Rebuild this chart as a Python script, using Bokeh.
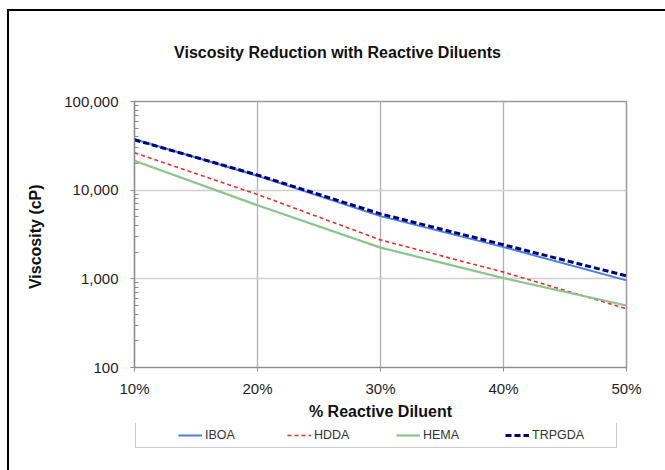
from bokeh.plotting import figure
from bokeh.layouts import column
from bokeh.models import (Range1d, FixedTicker, NumeralTickFormatter, PrintfTickFormatter,
                          Legend, LegendItem, Label)
from bokeh.embed import file_html
from bokeh.resources import INLINE

# ---- data ----
diluent_pct = [10, 20, 30, 40, 50]
iboa = [37500, 14500, 5100, 2280, 960]
hdda = [26500, 8950, 2750, 1190, 460]
hema = [21500, 6750, 2250, 1020, 500]
trpgda = [37000, 14800, 5400, 2420, 1080]
series_names = ["IBOA", "HDDA", "HEMA", "TRPGDA"]
series_values = [iboa, hdda, hema, trpgda]
x_ticks = [10, 20, 30, 40, 50]
y_ticks = [100, 1000, 10000, 100000]
y_minor = [m * 10 ** k for k in (2, 3, 4) for m in range(2, 10)]
chart_title = "Viscosity Reduction with Reactive Diluents"

FONT = "Liberation Sans"
styles_by_series = [
    dict(line_color="#4a7ee6", line_width=2),
    dict(line_color="#ee2b2b", line_width=1.6, line_dash="4 3"),
    dict(line_color="#8cc48c", line_width=2.2),
    dict(line_color="#00007f", line_width=3, line_dash="6 3"),
]
W = 656
FW = 492


def blank(fig):
    fig.background_fill_color = "white"
    fig.border_fill_color = "white"
    fig.outline_line_color = None
    fig.grid.visible = False


# ---- title strip (its frame is aligned with the main chart's frame) ----
p0 = figure(width=W, height=80, x_range=Range1d(0, FW), y_range=Range1d(0, 80),
            x_axis_location=None, y_axis_location=None,
            output_backend="svg", toolbar_location=None,
            min_border_left=0, min_border_right=0, min_border_top=0, min_border_bottom=0)
blank(p0)
p0.add_layout(Label(x=203, y=39, text=chart_title, text_align="center", text_baseline="middle",
                    text_font=FONT, text_font_style="bold", text_font_size="16px",
                    text_color="#111111"))

# ---- main chart ----
p = figure(width=W, height=332, frame_width=FW, frame_height=266,
           x_range=Range1d(10, 50), y_range=Range1d(100, 100000),
           y_axis_type="log", output_backend="svg", toolbar_location=None,
           min_border_left=125, min_border_right=39,
           min_border_top=10, min_border_bottom=56)
p.background_fill_color = "white"
p.border_fill_color = "white"
p.outline_line_color = "#9a9a9a"
p.outline_line_width = 1.5

p.xaxis.ticker = FixedTicker(ticks=x_ticks)
p.xaxis.formatter = PrintfTickFormatter(format="%d%%")
p.yaxis.ticker = FixedTicker(ticks=y_ticks, minor_ticks=y_minor)
p.yaxis.formatter = NumeralTickFormatter(format="0,0")

for ax in (p.xaxis[0], p.yaxis[0]):
    ax.axis_line_color = "#8c8c8c"
    ax.axis_line_width = 1.2
    ax.major_tick_line_color = "#8c8c8c"
    ax.major_tick_out = 4
    ax.major_tick_in = 0
    ax.major_label_text_font = FONT
    ax.major_label_text_font_size = "15px"
    ax.major_label_text_color = "#1e1e1e"
    ax.axis_label_text_font = FONT
    ax.axis_label_text_font_style = "bold"
    ax.axis_label_text_font_size = "16px"
    ax.axis_label_text_color = "#111111"

p.xaxis.minor_tick_line_color = None
p.xaxis.major_label_standoff = 8
p.xaxis.axis_label = "% Reactive Diluent"
p.xaxis.axis_label_standoff = 3

p.yaxis.minor_tick_line_color = "#8c8c8c"
p.yaxis.minor_tick_in = 4
p.yaxis.minor_tick_out = 0
p.yaxis.major_label_standoff = 12
p.yaxis.axis_label = "Viscosity  (cP)"
p.yaxis.axis_label_standoff = 17

p.xgrid.grid_line_color = "#b0b0b0"
p.xgrid.grid_line_width = 1.3
p.ygrid.grid_line_color = "#cfcfcf"
p.ygrid.grid_line_width = 1.3

for vals, st in zip(series_values, styles_by_series):
    p.line(diluent_pct, vals, **st)

# ---- legend strip (same series, drawn outside its visible range) ----
p2 = figure(width=W, height=47, x_range=Range1d(0, 1), y_range=Range1d(0, 1),
            x_axis_location=None, y_axis_location=None,
            output_backend="svg", toolbar_location=None,
            min_border_left=0, min_border_right=0, min_border_top=0, min_border_bottom=0)
blank(p2)
leg_renderers = [p2.line(diluent_pct, vals, **st) for vals, st in zip(series_values, styles_by_series)]
legend = Legend(items=[LegendItem(label=n, renderers=[r]) for n, r in zip(series_names, leg_renderers)],
                orientation="horizontal", location=(1, 22), padding=5, margin=0,
                title="\u00a0", title_location="left", title_standoff=22,
                spacing=3, glyph_width=24, glyph_height=14, label_width=79, label_height=14,
                label_standoff=3, label_text_font=FONT, label_text_font_size="12.5px",
                label_text_color="#333333", border_line_color="#9a9a9a", border_line_width=1.5,
                background_fill_color="white")
p2.add_layout(legend)

layout = column(p0, p, p2, spacing=0,
                styles={"margin-left": "7px", "margin-top": "9px",
                        "border-left": "2px solid black", "border-top": "2px solid black"})

open("out.html", "w").write(file_html(layout, INLINE))
